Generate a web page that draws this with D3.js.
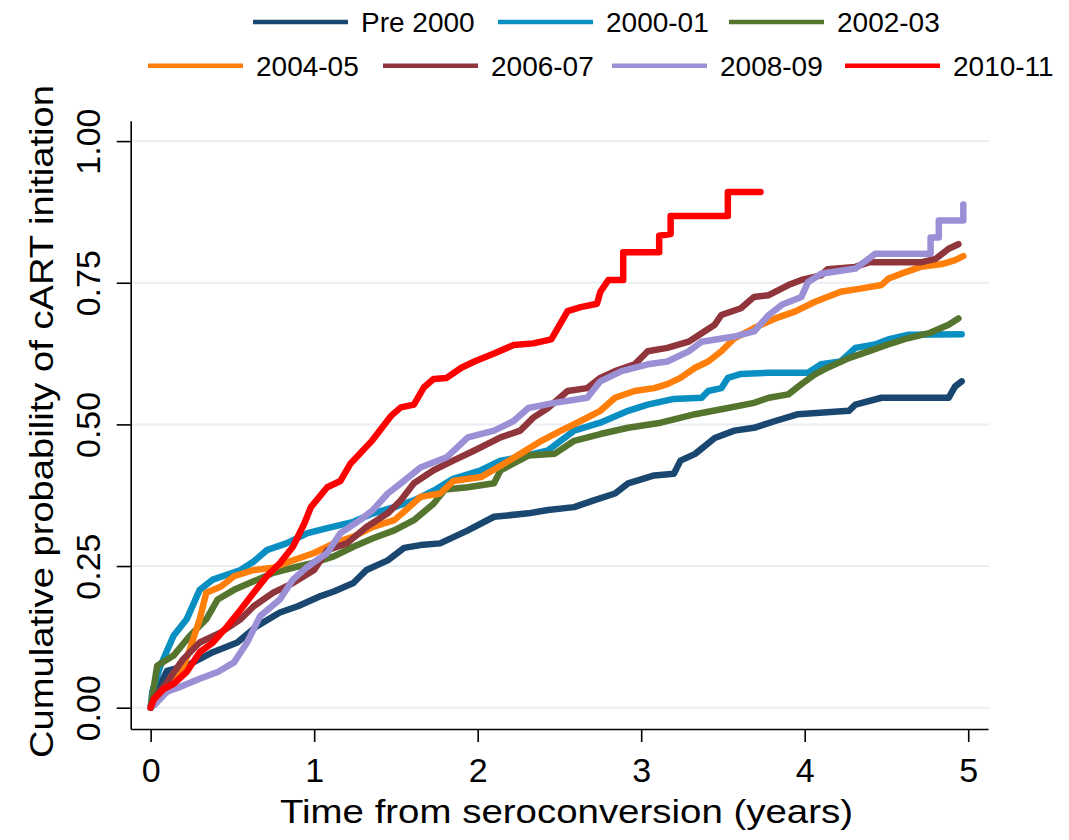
<!DOCTYPE html>
<html>
<head>
<meta charset="utf-8">
<script src="https://cdn.jsdelivr.net/npm/d3@7"></script>
<style>
  body { margin: 0; background: #fff; }
  text { font-family: Arial, "Liberation Sans", sans-serif; fill: #000; }
</style>
</head>
<body>
<div id="chart"></div>
<script>
// series names, in legend order
var cohorts = ["Pre 2000", "2000-01", "2002-03", "2004-05", "2006-07", "2008-09", "2010-11"];
var colors = ["#1a476f", "#0a8fc2", "#55752f", "#ff7f0a", "#90353b", "#9b8fd5", "#ff0000"];

// [years from seroconversion, cumulative probability]
var pre2000 = [[0,0],[0.02,0.02],[0.10,0.065],[0.22,0.074],[0.38,0.098],[0.53,0.115],[0.65,0.144],[0.79,0.168],[0.90,0.179],[1.04,0.197],[1.12,0.205],[1.24,0.22],[1.32,0.243],[1.45,0.26],[1.55,0.282],[1.65,0.287],[1.77,0.29],[1.94,0.313],[2.10,0.337],[2.31,0.343],[2.43,0.349],[2.59,0.354],[2.71,0.366],[2.84,0.378],[2.92,0.396],[3.08,0.41],[3.20,0.413],[3.24,0.436],[3.33,0.448],[3.45,0.476],[3.57,0.489],[3.69,0.494],[3.82,0.506],[3.96,0.518],[4.27,0.524],[4.31,0.535],[4.47,0.547],[4.88,0.547],[4.92,0.567],[4.96,0.576]];
var c2000 = [[0,0],[0.01,0.028],[0.06,0.074],[0.14,0.127],[0.22,0.156],[0.30,0.208],[0.38,0.226],[0.47,0.235],[0.55,0.243],[0.63,0.258],[0.71,0.278],[0.83,0.29],[0.96,0.308],[1.08,0.317],[1.24,0.328],[1.36,0.343],[1.49,0.354],[1.61,0.366],[1.73,0.383],[1.85,0.404],[2.02,0.419],[2.14,0.436],[2.26,0.442],[2.43,0.454],[2.59,0.489],[2.75,0.503],[2.92,0.524],[3.04,0.535],[3.20,0.545],[3.37,0.547],[3.41,0.559],[3.49,0.564],[3.53,0.582],[3.61,0.589],[3.78,0.591],[4.02,0.591],[4.10,0.606],[4.22,0.611],[4.31,0.635],[4.43,0.641],[4.51,0.65],[4.63,0.658],[4.96,0.659]];
var c2002 = [[0,0],[0.01,0.02],[0.04,0.074],[0.14,0.092],[0.24,0.127],[0.34,0.156],[0.41,0.191],[0.51,0.208],[0.63,0.223],[0.75,0.238],[0.87,0.247],[1.00,0.256],[1.12,0.267],[1.24,0.284],[1.36,0.299],[1.49,0.313],[1.61,0.331],[1.73,0.36],[1.80,0.385],[1.94,0.389],[2.10,0.396],[2.14,0.419],[2.31,0.445],[2.47,0.448],[2.59,0.471],[2.75,0.483],[2.92,0.494],[3.12,0.503],[3.33,0.518],[3.53,0.529],[3.69,0.538],[3.78,0.547],[3.90,0.553],[3.98,0.571],[4.06,0.588],[4.14,0.60],[4.27,0.617],[4.39,0.629],[4.51,0.641],[4.63,0.652],[4.76,0.661],[4.88,0.676],[4.94,0.687]];
var c2004 = [[0,0],[0.02,0.01],[0.10,0.039],[0.18,0.057],[0.24,0.103],[0.30,0.156],[0.34,0.203],[0.43,0.214],[0.51,0.232],[0.63,0.243],[0.75,0.247],[0.83,0.256],[1.00,0.273],[1.12,0.29],[1.24,0.302],[1.36,0.319],[1.49,0.331],[1.55,0.346],[1.65,0.372],[1.77,0.378],[1.85,0.40],[2.02,0.407],[2.14,0.427],[2.26,0.448],[2.39,0.471],[2.51,0.489],[2.63,0.506],[2.75,0.524],[2.84,0.547],[2.96,0.559],[3.08,0.564],[3.16,0.571],[3.24,0.582],[3.33,0.60],[3.41,0.611],[3.49,0.629],[3.57,0.652],[3.69,0.67],[3.82,0.687],[3.94,0.699],[4.06,0.716],[4.22,0.734],[4.35,0.74],[4.47,0.746],[4.51,0.757],[4.59,0.766],[4.71,0.778],[4.84,0.783],[4.92,0.79],[4.97,0.797]];
var c2006 = [[0,0],[0.02,0.016],[0.10,0.045],[0.20,0.086],[0.30,0.115],[0.43,0.133],[0.55,0.156],[0.63,0.179],[0.75,0.203],[0.87,0.22],[1.00,0.243],[1.08,0.278],[1.20,0.29],[1.32,0.319],[1.45,0.343],[1.53,0.366],[1.61,0.396],[1.73,0.419],[1.85,0.436],[1.98,0.454],[2.14,0.477],[2.26,0.489],[2.34,0.512],[2.43,0.529],[2.55,0.559],[2.67,0.564],[2.75,0.582],[2.84,0.594],[2.96,0.606],[3.04,0.629],[3.16,0.635],[3.29,0.646],[3.37,0.661],[3.45,0.676],[3.49,0.693],[3.61,0.705],[3.69,0.725],[3.78,0.728],[3.90,0.746],[3.98,0.755],[4.10,0.763],[4.14,0.774],[4.31,0.778],[4.39,0.786],[4.71,0.786],[4.80,0.792],[4.88,0.81],[4.94,0.818]];
var c2008 = [[0,0],[0.02,0.004],[0.10,0.028],[0.20,0.039],[0.30,0.051],[0.41,0.063],[0.51,0.08],[0.59,0.115],[0.67,0.162],[0.79,0.191],[0.87,0.226],[0.96,0.249],[1.08,0.273],[1.16,0.308],[1.28,0.331],[1.36,0.349],[1.45,0.378],[1.53,0.396],[1.65,0.424],[1.81,0.442],[1.94,0.477],[2.10,0.489],[2.22,0.506],[2.31,0.529],[2.47,0.538],[2.67,0.547],[2.75,0.576],[2.88,0.594],[3.04,0.606],[3.16,0.611],[3.29,0.629],[3.37,0.646],[3.57,0.655],[3.69,0.664],[3.78,0.693],[3.86,0.711],[3.98,0.725],[4.02,0.751],[4.10,0.766],[4.31,0.775],[4.39,0.792],[4.43,0.801],[4.77,0.801],[4.77,0.83],[4.82,0.83],[4.82,0.86],[4.97,0.86],[4.97,0.888]];
var c2010 = [[0,0],[0.02,0.015],[0.08,0.033],[0.14,0.042],[0.22,0.063],[0.30,0.098],[0.38,0.115],[0.47,0.144],[0.55,0.173],[0.63,0.203],[0.71,0.232],[0.79,0.255],[0.87,0.284],[0.94,0.325],[0.98,0.354],[1.08,0.389],[1.16,0.40],[1.22,0.43],[1.35,0.47],[1.47,0.515],[1.53,0.53],[1.61,0.535],[1.67,0.565],[1.73,0.58],[1.81,0.582],[1.90,0.60],[1.98,0.611],[2.10,0.625],[2.22,0.64],[2.34,0.643],[2.45,0.65],[2.49,0.67],[2.55,0.70],[2.63,0.707],[2.73,0.713],[2.75,0.734],[2.80,0.755],[2.89,0.755],[2.89,0.804],[3.11,0.804],[3.11,0.833],[3.18,0.836],[3.18,0.868],[3.53,0.868],[3.53,0.91],[3.73,0.91]];
var allSeries = [pre2000, c2000, c2002, c2004, c2006, c2008, c2010];

var xTicks = [0, 1, 2, 3, 4, 5];
var yTicks = [0, 0.25, 0.5, 0.75, 1];

var width = 1069, height = 840;

var svg = d3.select('#chart').append('svg')
    .attr('width', width)
    .attr('height', height)
    .style('display', 'block');

svg.append('rect').attr('width', width).attr('height', height).attr('fill', '#fff');

// plot frame runs a little past the data range, as in the Stata graph
var x = d3.scaleLinear().domain([-0.122, 5.121]).range([130.7, 988]);
var y = d3.scaleLinear().domain([-0.0376, 1.036]).range([729, 120.7]);

// horizontal gridlines
svg.append('g').selectAll('line')
    .data(yTicks)
    .enter().append('line')
      .attr('x1', x(-0.122))
      .attr('x2', x(5.128))
      .attr('y1', function(d) { return y(d); })
      .attr('y2', function(d) { return y(d); })
      .attr('stroke', '#eaeff5')
      .attr('stroke-width', 2);

// y axis
var yAxis = svg.append('g')
    .attr('transform', 'translate(' + x(-0.122) + ',0)')
    .call(d3.axisLeft(y).tickValues(yTicks).tickFormat(d3.format('.2f')).tickSize(14).tickSizeOuter(0));
yAxis.selectAll('text')
    .attr('x', null).attr('dy', null)
    .attr('transform', 'translate(-31,0) rotate(-90)')
    .attr('text-anchor', 'middle')
    .style('font-size', '34px')
    .style('font-family', 'Arial, "Liberation Sans", sans-serif');

// x axis
var xAxis = svg.append('g')
    .attr('transform', 'translate(0,' + y(-0.0376) + ')')
    .call(d3.axisBottom(x).tickValues(xTicks).tickFormat(d3.format('d')).tickSize(13).tickSizeOuter(0));
xAxis.selectAll('text')
    .attr('y', 53).attr('dy', null)
    .style('font-size', '34px')
    .style('font-family', 'Arial, "Liberation Sans", sans-serif');

svg.selectAll('.domain, .tick line')
    .attr('stroke', '#000')
    .attr('stroke-width', 1.6);

// axis titles
svg.append('text')
    .attr('x', 566.5)
    .attr('y', 823)
    .attr('text-anchor', 'middle')
    .attr('textLength', 573)
    .attr('lengthAdjust', 'spacingAndGlyphs')
    .style('font-size', '33px')
    .text('Time from seroconversion (years)');

svg.append('text')
    .attr('transform', 'translate(53,421.5) rotate(-90)')
    .attr('text-anchor', 'middle')
    .attr('textLength', 673)
    .attr('lengthAdjust', 'spacingAndGlyphs')
    .style('font-size', '34px')
    .text('Cumulative probability of cART initiation');

// curves
var line = d3.line()
    .x(function(d) { return x(d[0]); })
    .y(function(d) { return y(d[1]); });

svg.append('g').selectAll('path')
    .data(allSeries)
    .enter().append('path')
      .attr('d', line)
      .attr('fill', 'none')
      .attr('stroke', function(d, i) { return colors[i]; })
      .attr('stroke-width', 6.5)
      .attr('stroke-linejoin', 'round')
      .attr('stroke-linecap', 'round');

// legend: two rows, key line then label
var rows = [
  { lineY: 22, textY: 32, starts: [253, 498, 729], items: [0, 1, 2] },
  { lineY: 65.7, textY: 76, starts: [148, 383, 612, 845], items: [3, 4, 5, 6] }
];
var legend = svg.append('g');
rows.forEach(function(row) {
  row.items.forEach(function(i, k) {
    var lx = row.starts[k];
    legend.append('line')
        .attr('x1', lx).attr('x2', lx + 95)
        .attr('y1', row.lineY).attr('y2', row.lineY)
        .attr('stroke', colors[i])
        .attr('stroke-width', 4.5);
    legend.append('text')
        .attr('x', lx + 108)
        .attr('y', row.textY)
        .style('font-size', '28px')
        .text(cohorts[i]);
  });
});
</script>
</body>
</html>
